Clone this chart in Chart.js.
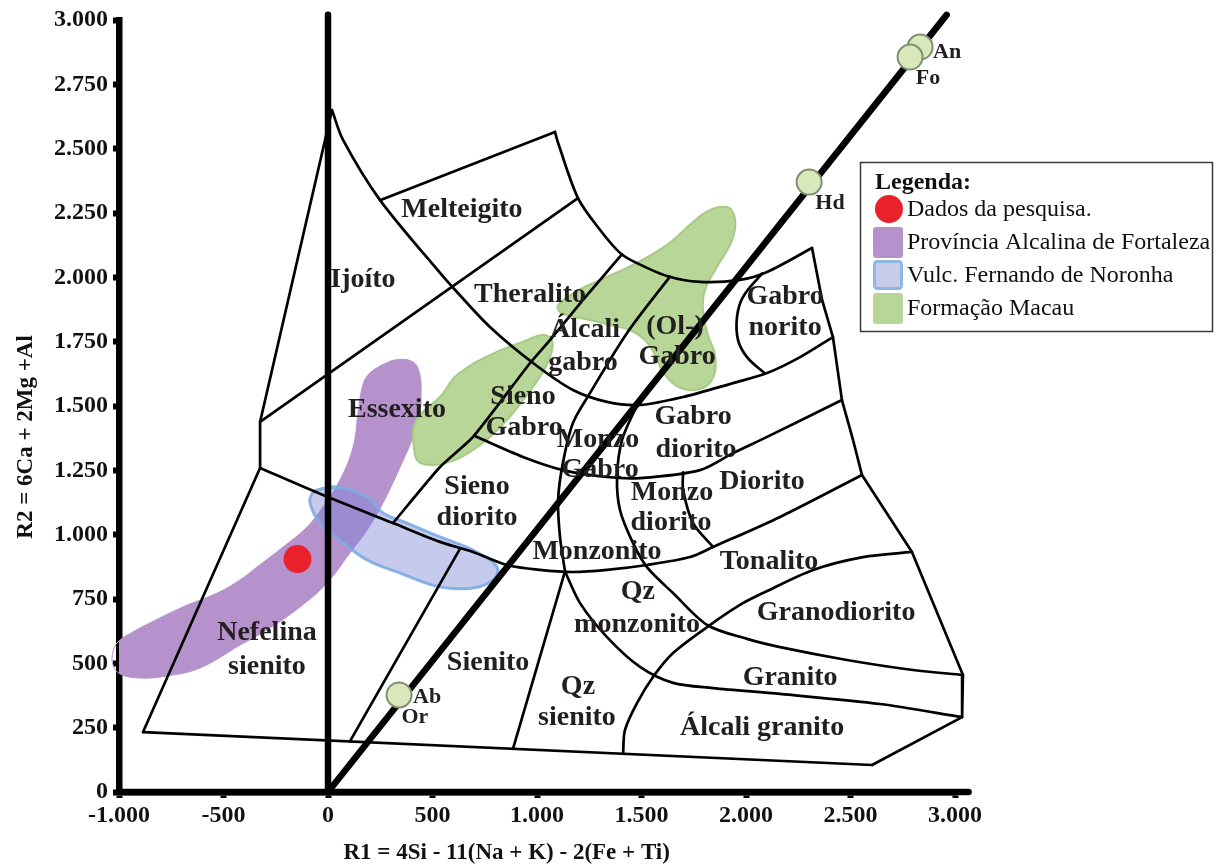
<!DOCTYPE html>
<html>
<head>
<meta charset="utf-8">
<script src="https://cdn.jsdelivr.net/npm/chart.js@4/dist/chart.umd.min.js"></script>
<style>
  html, body { margin: 0; padding: 0; background: #fff; }
  canvas { display: block; }
</style>
</head>
<body>
<canvas id="chart" width="1217" height="867"></canvas>
<script>
// R1–R2 multicationic classification diagram (De la Roche et al.)

// ---- axes ----
const xTickValues = [-1000, -500, 0, 500, 1000, 1500, 2000, 2500, 3000];
const yTickValues = [0, 250, 500, 750, 1000, 1250, 1500, 1750, 2000, 2250, 2500, 2750, 3000];

// ---- field boundaries, [R1, R2] ----
const outerLeft       = [[-885,233],[-325,1259],[-325,1438],[19,2650]];
const apexCurve       = [[19,2650],[72,2534],[249,2300],[536,2017],[617,1943],[775,1807],[981,1667],[1172,1562],[1335,1516],[1493,1504],[1699,1535],[1938,1589],[2101,1628],[2259,1690],[2416,1768]];
const ijoliteLine     = [[-325,1438],[1196,2308]];
const melteigiteTop   = [[249,2300],[1086,2565]];
const melteigiteCurve = [[1086,2565],[1101,2522],[1196,2308],[1302,2184],[1397,2095],[1459,2063],[1622,2005],[1780,1982],[1971,1990],[2101,2021],[2316,2114]];
const rightEdge       = [[2316,2114],[2364,1912],[2416,1768],[2459,1523],[2512,1368],[2555,1232],[2794,933],[3038,455],[3034,291],[2603,105]];
const baseLine        = [[-885,233],[2603,105]];
const alkaliLine      = [[1407,2090],[1220,1912],[1062,1756],[967,1667],[694,1380],[536,1263],[311,1045]];
const nephelineLine   = [[-325,1259],[-24,1154],[311,1045],[536,972],[694,933],[857,882],[1014,863],[1172,855],[1335,863],[1526,882],[1732,913],[1842,952],[2163,1069],[2555,1232]];
const syeniteLine     = [[632,946],[105,197]];
const gabbroLine      = [[1636,2003],[1431,1784],[1254,1551],[1172,1434],[1124,1279],[1101,1135],[1110,991],[1134,857]];
const qzSyeniteLine   = [[1134,857],[1014,525],[885,168]];
const syenogabbroLine = [[703,1383],[933,1302],[1124,1251],[1335,1224],[1493,1220],[1780,1251],[1938,1317],[2101,1380],[2459,1523]];
const monzoLine       = [[1479,1505],[1407,1368],[1383,1224],[1397,1096],[1459,968],[1526,874],[1651,773],[1814,649],[2005,595],[2163,563],[2483,513],[2799,474],[3038,455]];
const dioriteLine     = [[1699,1242],[1699,1174],[1747,1045],[1842,952]];
const tonaliteLine    = [[2794,933],[2560,913],[2321,863],[2081,773],[1971,727],[1814,641],[1651,540],[1555,447],[1479,346],[1421,241],[1412,149]];
const graniteLine     = [[1134,857],[1206,734],[1335,602],[1493,486],[1651,424],[1842,404],[2163,381],[2641,342],[3034,291]];
const noriteLine      = [[2077,2015],[1986,1924],[1957,1846],[1962,1756],[2005,1690],[2091,1626]];

// thick reference lines
const zeroLine   = [[0,0],[0,3020]];
const originLine = [[0,0],[2960,3020]];
const r1AxisLine = [[-1000,0],[3065,0]];

// ---- compared fields ----
const fortalezaField = [[249,1655],[321,1679],[407,1671],[440,1620],[445,1543],[440,1473],[407,1380],[345,1263],[263,1123],[187,1018],[105,929],[-5,812],[-134,719],[-292,630],[-421,571],[-612,482],[-770,451],[-900,443],[-995,459],[-1029,494],[-1029,544],[-1005,583],[-933,622],[-852,657],[-694,719],[-531,773],[-421,824],[-340,874],[-215,952],[-100,1030],[-24,1108],[57,1212],[120,1341],[144,1473],[163,1570],[191,1620],[249,1655],[321,1679]];
const noronhaField   = [[-53,1174],[43,1185],[187,1146],[263,1084],[378,1045],[536,991],[694,940],[809,874],[790,824],[694,793],[536,797],[345,851],[187,902],[57,979],[-38,1045],[-86,1123],[-77,1158],[-53,1174],[43,1185]];
const macauFieldA    = [[416,1310],[407,1407],[440,1465],[536,1535],[617,1620],[775,1698],[952,1756],[1029,1776],[1072,1756],[1062,1690],[1014,1613],[933,1523],[857,1446],[775,1380],[694,1329],[608,1290],[512,1271],[440,1279],[416,1310],[407,1407]];
const macauFieldB    = [[1101,1892],[1182,1943],[1302,1990],[1459,2048],[1622,2126],[1747,2215],[1828,2262],[1909,2273],[1943,2242],[1947,2184],[1924,2126],[1861,2040],[1804,1951],[1794,1873],[1818,1776],[1852,1698],[1847,1620],[1804,1574],[1732,1562],[1660,1582],[1603,1632],[1565,1698],[1517,1756],[1445,1795],[1349,1815],[1254,1834],[1158,1850],[1110,1865],[1101,1892],[1182,1943]];

// ---- samples and reference minerals ----
const samplePoints  = [[-146,905]];
const mineralPoints = [[340,377],[2302,2370],[2833,2895],[2785,2856]];   // Ab/Or, Hd, An, Fo
const mineralLabels = [['Ab',474,369],['Or',416,291],['Hd',2402,2289],['Fo',2871,2775],['An',2962,2876]];

// ---- field names ----
const fieldLabels = [
  ['Ijoíto',167,1990], ['Melteigito',641,2262], ['Theralito',967,1931],
  ['Álcali',1230,1795], ['gabro',1220,1667],
  ['(Ol-)',1660,1807], ['Gabro',1670,1690],
  ['Gabro',2187,1924], ['norito',2187,1803],
  ['Essexito',330,1484],
  ['Sieno',933,1535], ['Gabro',938,1415],
  ['Monzo',1292,1368], ['Gabro',1302,1251],
  ['Gabro',1747,1457], ['diorito',1761,1329],
  ['Sieno',713,1185], ['diorito',713,1065],
  ['Monzo',1646,1162], ['diorito',1641,1045],
  ['Diorito',2077,1205],
  ['Monzonito',1287,933],
  ['Tonalito',2110,894],
  ['Qz',1483,777], ['monzonito',1479,649],
  ['Granodiorito',2431,696],
  ['Nefelina',-292,618], ['sienito',-292,486],
  ['Sienito',766,501],
  ['Qz',1196,408], ['sienito',1191,288],
  ['Granito',2211,443],
  ['Álcali granito',2077,249]
];

const legendItems = ['Dados da pesquisa.', 'Província Alcalina de Fortaleza', 'Vulc. Fernando de Noronha', 'Formação Macau'];

// ---- styling ----
const SERIF = "'Liberation Serif', 'Times New Roman', serif";
const PURPLE = '#b692cd';
const BLUE_FILL = 'rgba(118,130,214,0.42)';
const BLUE_EDGE = 'rgba(125,172,226,0.9)';
const GREEN = '#b8d697';
const GREEN_EDGE = '#a6cb86';
const RED = '#e8212b';

const pts = a => a.map(([x, y]) => ({x, y}));
const fmt = v => {
  const s = String(Math.abs(v));
  const t = s.length > 3 ? s.slice(0, -3) + '.' + s.slice(-3) : s;
  return (v < 0 ? '-' : '') + t;
};

function boundary(data, tension) {
  return {
    data: pts(data), showLine: true, fill: false, tension: tension || 0,
    borderColor: '#000', borderWidth: 2.7, pointRadius: 0,
    borderCapStyle: 'round', borderJoinStyle: 'round', order: 5, clip: false
  };
}
function field(data, fillColor, edgeColor, edgeWidth, order) {
  return {
    data: pts(data), showLine: true, fill: 'shape', tension: 0.4,
    backgroundColor: fillColor, borderColor: edgeColor, borderWidth: edgeWidth,
    pointRadius: 0, order: order, clip: false
  };
}
function thick(data) {
  return {
    data: pts(data), showLine: true, fill: false, tension: 0,
    borderColor: '#000', borderWidth: 6.5, pointRadius: 0,
    borderCapStyle: 'round', order: 3, clip: false
  };
}

const datasets = [
  field(fortalezaField, PURPLE, PURPLE, 1, 10),
  field(noronhaField, BLUE_FILL, BLUE_EDGE, 3, 9),
  field(macauFieldA, GREEN, GREEN_EDGE, 2, 8),
  field(macauFieldB, GREEN, GREEN_EDGE, 2, 8),
  boundary(outerLeft),
  boundary(apexCurve, 0.3),
  boundary(ijoliteLine),
  boundary(melteigiteTop),
  boundary(melteigiteCurve, 0.3),
  boundary(rightEdge),
  boundary(baseLine),
  boundary(alkaliLine, 0.2),
  boundary(nephelineLine, 0.3),
  boundary(syeniteLine),
  boundary(gabbroLine, 0.3),
  boundary(qzSyeniteLine),
  boundary(syenogabbroLine, 0.3),
  boundary(monzoLine, 0.3),
  boundary(dioriteLine, 0.3),
  boundary(tonaliteLine, 0.3),
  boundary(graniteLine, 0.3),
  boundary(noriteLine, 0.4),
  thick(zeroLine),
  thick(originLine),
  thick(r1AxisLine),
  { data: pts(samplePoints), pointRadius: 14, pointHoverRadius: 14,
    backgroundColor: RED, borderColor: RED, borderWidth: 0, order: 1 },
  { data: pts(mineralPoints), pointRadius: 12.5, pointHoverRadius: 12.5,
    backgroundColor: '#d9e8ba', borderColor: '#7f8f72', borderWidth: 2, order: 0 }
];

const annotate = {
  id: 'annotate',
  afterDatasetsDraw(chart) {
    const {ctx, scales: {x, y}} = chart;
    ctx.save();
    ctx.fillStyle = '#231f20';
    ctx.textAlign = 'center';
    ctx.textBaseline = 'middle';
    ctx.font = 'bold 28px ' + SERIF;
    fieldLabels.forEach(([t, vx, vy]) => ctx.fillText(t, x.getPixelForValue(vx), y.getPixelForValue(vy)));
    ctx.font = 'bold 22px ' + SERIF;
    mineralLabels.forEach(([t, vx, vy]) => ctx.fillText(t, x.getPixelForValue(vx), y.getPixelForValue(vy)));
    ctx.restore();
  },
  afterDraw(chart) {
    const {ctx, chartArea, scales: {x, y}} = chart;
    ctx.save();
    // axis titles
    ctx.fillStyle = '#111';
    ctx.font = 'bold 23px ' + SERIF;
    ctx.textAlign = 'center';
    ctx.textBaseline = 'middle';
    ctx.fillText('R1 = 4Si - 11(Na + K) - 2(Fe + Ti)', x.getPixelForValue(855), chartArea.bottom + 61);
    ctx.translate(26, y.getPixelForValue(1380));
    ctx.rotate(-Math.PI / 2);
    ctx.fillText('R2 = 6Ca + 2Mg +Al', 0, 0);
    ctx.restore();

    // legend box
    ctx.save();
    const bx = 860, by = 162, bw = 352, bh = 169;
    ctx.fillStyle = '#fff';
    ctx.fillRect(bx, by, bw, bh);
    ctx.strokeStyle = '#3a3a3a';
    ctx.lineWidth = 1.5;
    ctx.strokeRect(bx + 0.5, by + 0.5, bw, bh);
    ctx.fillStyle = '#111';
    ctx.textAlign = 'left';
    ctx.textBaseline = 'middle';
    ctx.font = 'bold 24px ' + SERIF;
    ctx.fillText('Legenda:', 875, 183);

    ctx.fillStyle = RED;
    ctx.beginPath();
    ctx.arc(889, 209, 14, 0, Math.PI * 2);
    ctx.fill();

    const rr = (x0, y0, w, h, r) => {
      ctx.beginPath();
      if (ctx.roundRect) ctx.roundRect(x0, y0, w, h, r); else ctx.rect(x0, y0, w, h);
    };
    ctx.fillStyle = PURPLE; rr(873, 227, 30, 31, 3); ctx.fill();
    ctx.fillStyle = '#c7cce9'; rr(874.5, 261.5, 27, 27, 3); ctx.fill();
    ctx.strokeStyle = '#8fb7df'; ctx.lineWidth = 3; ctx.stroke();
    ctx.fillStyle = GREEN; rr(873, 293, 30, 31, 3); ctx.fill();

    ctx.fillStyle = '#111';
    ctx.font = '24px ' + SERIF;
    [210, 243, 276, 309].forEach((ty, i) => ctx.fillText(legendItems[i], 907, ty));
    ctx.restore();
  }
};

const tickFont = {family: SERIF, size: 24, weight: 'bold'};

new Chart(document.getElementById('chart'), {
  type: 'scatter',
  data: { datasets },
  options: {
    responsive: false,
    animation: false,
    devicePixelRatio: 1,
    layout: { padding: { left: 0, right: 262, top: 20, bottom: 0 } },
    plugins: { legend: { display: false }, tooltip: { enabled: false } },
    scales: {
      x: {
        type: 'linear', min: -1000, max: 3000, z: 1,
        afterBuildTicks: s => { s.ticks = xTickValues.map(v => ({value: v})); },
        afterFit: s => { s.height = 75; },
        grid: { drawOnChartArea: false, drawTicks: true, tickLength: 6, tickWidth: 6, tickColor: '#000', color: '#000' },
        border: { display: true, width: 6.5, color: '#000' },
        ticks: { autoSkip: false, maxRotation: 0, padding: 3, color: '#111', font: tickFont, callback: v => fmt(v) }
      },
      y: {
        type: 'linear', min: 0, max: 3000, z: 1,
        afterBuildTicks: s => { s.ticks = yTickValues.map(v => ({value: v})); },
        afterFit: s => { s.width = 119; },
        grid: { drawOnChartArea: false, drawTicks: true, tickLength: 6, tickWidth: 6, tickColor: '#000', color: '#000' },
        border: { display: true, width: 6.5, color: '#000' },
        ticks: { autoSkip: false, padding: 5, color: '#111', font: tickFont, callback: v => fmt(v) }
      }
    }
  },
  plugins: [annotate]
});
</script>
</body>
</html>
